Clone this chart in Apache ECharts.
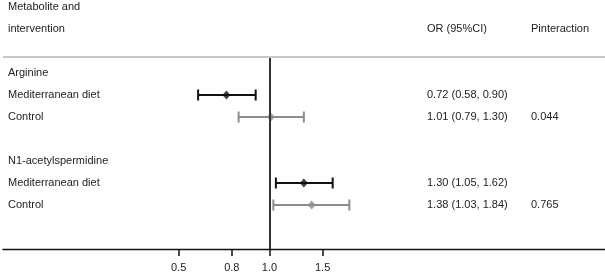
<!DOCTYPE html>
<html>
<head>
<meta charset="utf-8">
<script src="https://cdn.jsdelivr.net/npm/echarts@6/dist/echarts.min.js"></script>
<style>
  html, body { margin: 0; padding: 0; background: #fff; }
  #chart { width: 605px; height: 276px; }
</style>
</head>
<body>
<div id="chart"></div>
<script>
// rows (top to bottom), -3/-2 are the header lines
var rowPos = [-3, -2, 0, 1, 2, 4, 5, 6]
var rowLabels = ['Metabolite and', 'intervention', 'Arginine', 'Mediterranean diet', 'Control',
  'N1-acetylspermidine', 'Mediterranean diet', 'Control']

var estRows = [1, 2, 5, 6]
var groups = ['Mediterranean diet', 'Control', 'Mediterranean diet', 'Control']
var orValues = [0.72, 1.01, 1.30, 1.38]
var ciLow = [0.58, 0.79, 1.05, 1.03]
var ciHigh = [0.90, 1.30, 1.62, 1.84]

var pRows = [2, 6]
var pValues = ['0.044', '0.765']

var xTicks = [0.5, 0.75, 1.0, 1.5]

var colors = { 'Mediterranean diet': '#111111', 'Control': '#8c8c8c' }
var textColor = '#222'
var yMin = -3.318, yMax = 8, topLineY = -0.727

function labelFor(rows, texts) {
  return function (v) {
    for (var i = 0; i < rows.length; i++) {
      if (Math.abs(rows[i] - v) < 1e-6) return texts[i]
    }
    return ''
  }
}

var orTexts = ['OR (95%CI)']
var orTextRows = [-2]
for (var i = 0; i < orValues.length; i++) {
  orTextRows.push(estRows[i])
  orTexts.push(orValues[i].toFixed(2) + ' (' + ciLow[i].toFixed(2) + ', ' + ciHigh[i].toFixed(2) + ')')
}
var pTextRows = [-2].concat(pRows)
var pTexts = ['Pinteraction'].concat(pValues)

function yAxisBase(extra) {
  var a = {
    type: 'value',
    inverse: true,
    min: yMin,
    max: yMax,
    axisLine: { show: false },
    axisTick: { show: false },
    splitLine: { show: false }
  }
  for (var k in extra) a[k] = extra[k]
  return a
}

var ciData = []
var pointData = []
for (var j = 0; j < orValues.length; j++) {
  ciData.push({
    value: [ciLow[j], ciHigh[j], estRows[j]],
    itemStyle: { color: colors[groups[j]] }
  })
  pointData.push({
    value: [orValues[j], estRows[j]],
    itemStyle: { color: colors[groups[j]] }
  })
}

var chart = echarts.init(document.getElementById('chart'))
var option = {
  animation: false,
  grid: { left: 3, right: 0, top: 0, bottom: 27 },
  xAxis: {
    type: 'log',
    logBase: 10,
    min: 0.1308,
    max: 12.95,
    axisLine: { show: true, onZero: false, lineStyle: { color: '#111', width: 1.3 } },
    axisTick: { show: true, customValues: xTicks, length: 7, lineStyle: { color: '#111', width: 1.5 } },
    axisLabel: {
      customValues: xTicks,
      margin: 13,
      color: textColor,
      fontSize: 11,
      fontFamily: 'Liberation Sans, Arial, sans-serif',
      formatter: function (v) { return Number(v).toFixed(1) }
    },
    splitLine: { show: false }
  },
  yAxis: [
    yAxisBase({
      position: 'left',
      axisLabel: {
        inside: true,
        margin: 5,
        customValues: rowPos,
        color: textColor,
        fontSize: 11,
        fontFamily: 'Liberation Sans, Arial, sans-serif',
        formatter: labelFor(rowPos, rowLabels)
      }
    }),
    yAxisBase({
      position: 'right',
      offset: -178,
      axisLabel: {
        margin: 0,
        customValues: orTextRows,
        color: textColor,
        fontSize: 11,
        fontFamily: 'Liberation Sans, Arial, sans-serif',
        formatter: labelFor(orTextRows, orTexts)
      }
    }),
    yAxisBase({
      position: 'right',
      offset: -74,
      axisLabel: {
        margin: 0,
        customValues: pTextRows,
        color: textColor,
        fontSize: 11,
        fontFamily: 'Liberation Sans, Arial, sans-serif',
        formatter: labelFor(pTextRows, pTexts)
      }
    })
  ],
  series: [
    {
      type: 'custom',
      yAxisIndex: 0,
      data: ciData,
      encode: { x: [0, 1], y: 2 },
      renderItem: function (params, api) {
        var lo = api.coord([api.value(0), api.value(2)])
        var hi = api.coord([api.value(1), api.value(2)])
        var c = api.visual('color')
        var h = 5.5
        var st = { stroke: c, lineWidth: 2 }
        return {
          type: 'group',
          children: [
            { type: 'line', shape: { x1: lo[0], y1: lo[1], x2: hi[0], y2: hi[1] }, style: st },
            { type: 'line', shape: { x1: lo[0], y1: lo[1] - h, x2: lo[0], y2: lo[1] + h }, style: st },
            { type: 'line', shape: { x1: hi[0], y1: hi[1] - h, x2: hi[0], y2: hi[1] + h }, style: st }
          ]
        }
      },
      markLine: {
        silent: true,
        symbol: 'none',
        label: { show: false },
        data: [
          [{ coord: [1, topLineY] }, { coord: [1, yMax] }]
        ],
        lineStyle: { color: '#333', width: 2, type: 'solid' }
      },
      z: 3
    },
    {
      type: 'scatter',
      yAxisIndex: 0,
      data: pointData,
      symbol: 'diamond',
      symbolSize: [8, 9],
      z: 4,
      markLine: {
        silent: true,
        symbol: 'none',
        label: { show: false },
        data: [{ yAxis: topLineY }],
        lineStyle: { color: '#c8c8c8', width: 2, type: 'solid' }
      }
    }
  ]
}
chart.setOption(option)
</script>
</body>
</html>
